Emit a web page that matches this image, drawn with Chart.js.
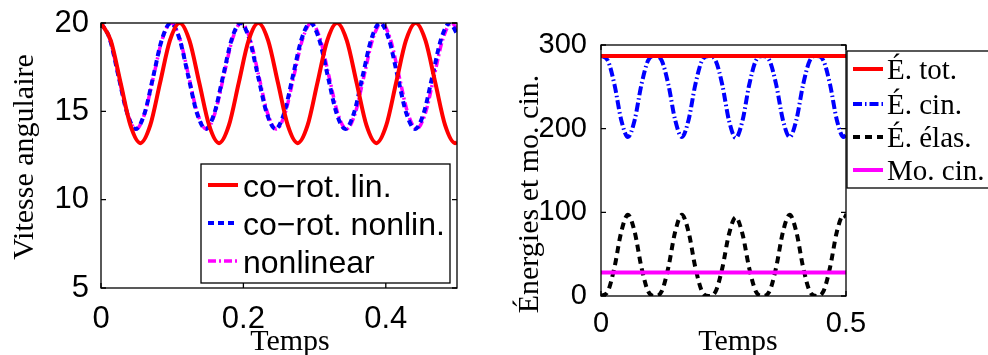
<!DOCTYPE html>
<html>
<head>
<meta charset="utf-8">
<title>Vitesse angulaire et énergies</title>
<script src="https://cdn.jsdelivr.net/npm/chart.js@4.4.0/dist/chart.umd.min.js"></script>
<style>
  body { margin: 0; background: #fff; }
  #wrap { position: relative; width: 988px; height: 355px; overflow: hidden; }
  #left { position: absolute; left: 0; top: 0; }
  #right { position: absolute; left: 500px; top: 0; }
</style>
</head>
<body>
<div id="wrap">
  <canvas id="left" width="500" height="355"></canvas>
  <canvas id="right" width="488" height="355"></canvas>
</div>
<script>
'use strict';

// left panel: angular velocity
let linTime = [0, 0.0138, 0.0276, 0.0414, 0.0553, 0.0691, 0.0829, 0.0967,
  0.1105, 0.1243, 0.1381, 0.1519, 0.1658, 0.1796, 0.1934, 0.2072,
  0.221, 0.2348, 0.2486, 0.2624, 0.2763, 0.2901, 0.3039, 0.3177,
  0.3315, 0.3453, 0.3591, 0.3729, 0.3868, 0.4006, 0.4144, 0.4282,
  0.442, 0.4558, 0.4696, 0.4834, 0.4973, 0.5];
let linSpeed = [20, 19, 16.6, 14.2, 13.2, 14.2, 16.6, 19,
  20, 19, 16.6, 14.2, 13.2, 14.2, 16.6, 19,
  20, 19, 16.6, 14.2, 13.2, 14.2, 16.6, 19,
  20, 19, 16.6, 14.2, 13.2, 14.2, 16.6, 19,
  20, 19, 16.6, 14.2, 13.2, 13.25];

let nonlinTime = [0, 0.01225, 0.0245, 0.03675, 0.049, 0.06125, 0.0735, 0.08575,
  0.098, 0.11025, 0.1225, 0.13475, 0.147, 0.15925, 0.1715, 0.18375,
  0.196, 0.20825, 0.2205, 0.23275, 0.245, 0.25725, 0.2695, 0.28175,
  0.294, 0.30625, 0.3185, 0.33075, 0.343, 0.35525, 0.3675, 0.37975,
  0.392, 0.40425, 0.4165, 0.42875, 0.441, 0.45325, 0.4655, 0.47775,
  0.49, 0.5];
let nonlinSpeed = [20, 19.1, 17, 14.9, 14, 14.9, 17, 19.1,
  20, 19.1, 17, 14.9, 14, 14.9, 17, 19.1,
  20, 19.1, 17, 14.9, 14, 14.9, 17, 19.1,
  20, 19.1, 17, 14.9, 14, 14.9, 17, 19.1,
  20, 19.1, 17, 14.9, 14, 14.9, 17, 19.1,
  20, 19.4];

let fullTime = [0, 0.0123, 0.0246, 0.0369, 0.0493, 0.0616, 0.0739, 0.0862,
  0.0985, 0.1108, 0.1231, 0.1354, 0.1478, 0.1601, 0.1724, 0.1847,
  0.197, 0.2093, 0.2216, 0.2339, 0.2463, 0.2586, 0.2709, 0.2832,
  0.2955, 0.3078, 0.3201, 0.3324, 0.3448, 0.3571, 0.3694, 0.3817,
  0.394, 0.4063, 0.4186, 0.4309, 0.4433, 0.4556, 0.4679, 0.4802,
  0.4925, 0.5];
let fullSpeed = [20, 19.1, 17, 14.9, 14, 14.9, 17, 19.1,
  20, 19.1, 17, 14.9, 14, 14.9, 17, 19.1,
  20, 19.1, 17, 14.9, 14, 14.9, 17, 19.1,
  20, 19.1, 17, 14.9, 14, 14.9, 17, 19.1,
  20, 19.1, 17, 14.9, 14, 14.9, 17, 19.1,
  20, 19.65];

// right panel: energies and angular momentum
let energyTime = [0, 0.01375, 0.0275, 0.04125, 0.055, 0.06875, 0.0825, 0.09625,
  0.11, 0.12375, 0.1375, 0.15125, 0.165, 0.17875, 0.1925, 0.20625,
  0.22, 0.23375, 0.2475, 0.26125, 0.275, 0.28875, 0.3025, 0.31625,
  0.33, 0.34375, 0.3575, 0.37125, 0.385, 0.39875, 0.4125, 0.42625,
  0.44, 0.45375, 0.4675, 0.48125, 0.495, 0.5];
let cinEnergy = [287, 281.6, 252.7, 210.5, 190, 210.5, 252.7, 281.6,
  287, 281.6, 252.7, 210.5, 190, 210.5, 252.7, 281.6,
  287, 281.6, 252.5, 209.5, 189, 209.5, 252.5, 281.6,
  287, 281.6, 252.7, 210.5, 190, 210.5, 252.7, 281.6,
  287, 281.6, 252.7, 210.5, 190, 192.8];
let elasEnergy = [0, 5.4, 34.3, 76.5, 97, 76.5, 34.3, 5.4,
  0, 5.4, 34.3, 76.5, 97, 76.5, 34.3, 5.4,
  0, 5.2, 33.2, 74.1, 94, 74.1, 33.2, 5.2,
  0, 5.4, 34.3, 76.5, 97, 76.5, 34.3, 5.4,
  0, 5.4, 34.3, 76.5, 97, 94.2];
let flatTime = [0, 0.5];
let totEnergy = [287, 287];
let momentum = [28, 28];

// tick labels
let leftXTicks = [0, 0.2, 0.4];
let leftYTicks = [5, 10, 15, 20];
let rightXTicks = [0, 0.5];
let rightYTicks = [0, 100, 200, 300];

// legend names
let leftNames = ['co\u2212rot. lin.', 'co\u2212rot. nonlin.', 'nonlinear'];
let rightNames = ['É. tot.', 'É. cin.', 'É. élas.', 'Mo. cin.'];

function toPoints(times, values) {
  return times.map((t, i) => ({ x: t, y: values[i] }));
}

let sansFamily = '"Liberation Sans", Arial, sans-serif';

// matlab style box, inward ticks, axis labels and the boxed legend
const matlabFrame = {
  id: 'matlabFrame',
  afterDatasetsDraw(chart, args, opts) {
    let ctx = chart.ctx;
    let a = chart.chartArea;
    let xs = chart.scales.x;
    let ys = chart.scales.y;
    ctx.save();
    ctx.strokeStyle = '#000';
    ctx.lineWidth = 1.3;
    ctx.setLineDash([]);
    ctx.beginPath();
    xs.ticks.forEach(t => {
      let px = xs.getPixelForValue(t.value);
      ctx.moveTo(px, a.bottom); ctx.lineTo(px, a.bottom - 5);
      ctx.moveTo(px, a.top); ctx.lineTo(px, a.top + 5);
    });
    ys.ticks.forEach(t => {
      let py = ys.getPixelForValue(t.value);
      ctx.moveTo(a.left, py); ctx.lineTo(a.left + 5, py);
      ctx.moveTo(a.right, py); ctx.lineTo(a.right - 5, py);
    });
    ctx.stroke();
    ctx.strokeRect(a.left, a.top, a.right - a.left, a.bottom - a.top);

    // axis titles
    ctx.fillStyle = '#000';
    ctx.font = '30px "Liberation Serif", serif';
    ctx.textAlign = 'center';
    ctx.textBaseline = 'alphabetic';
    ctx.fillText(opts.xTitle, opts.xTitleAt[0], opts.xTitleAt[1]);
    ctx.save();
    ctx.translate(opts.yTitleAt[0], opts.yTitleAt[1]);
    ctx.rotate(-Math.PI / 2);
    ctx.fillText(opts.yTitle, 0, 0);
    ctx.restore();

    // legend
    let lg = opts.legend;
    ctx.fillStyle = '#fff';
    ctx.fillRect(lg.box[0], lg.box[1], lg.box[2], lg.box[3]);
    ctx.strokeRect(lg.box[0], lg.box[1], lg.box[2], lg.box[3]);
    ctx.font = lg.font;
    ctx.textAlign = 'left';
    chart.data.datasets.forEach((ds, i) => {
      let y = lg.rows[i];
      ctx.save();
      ctx.strokeStyle = ds.borderColor;
      ctx.lineWidth = ds.borderWidth;
      ctx.setLineDash(ds.borderDash || []);
      ctx.beginPath();
      ctx.moveTo(lg.sample[0], y);
      ctx.lineTo(lg.sample[1], y);
      ctx.stroke();
      ctx.restore();
      ctx.fillStyle = '#000';
      ctx.fillText(ds.label, lg.textX, y + lg.drop);
    });
    ctx.restore();
  }
};

function axis(min, max, ticks, size, pad, fontSize, horizontal) {
  return {
    type: 'linear',
    min: min,
    max: max,
    grid: { display: false },
    border: { display: false },
    afterBuildTicks: s => { s.ticks = ticks.map(v => ({ value: v })); },
    afterFit: s => { if (horizontal) { s.height = size; } else { s.width = size; } },
    ticks: {
      font: { family: sansFamily, size: fontSize },
      color: '#000',
      padding: pad,
      maxRotation: 0,
      autoSkip: false,
      callback: v => String(v)
    }
  };
}

function line(label, times, values, color, width, dash, order) {
  return {
    label: label,
    data: toPoints(times, values),
    borderColor: color,
    backgroundColor: color,
    borderWidth: width,
    borderDash: dash,
    pointRadius: 0,
    fill: false,
    cubicInterpolationMode: 'monotone',
    order: order || 0
  };
}

let leftChart = new Chart(document.getElementById('left'), {
  type: 'line',
  data: {
    datasets: [
      line(leftNames[0], linTime, linSpeed, '#ff0000', 4, []),
      line(leftNames[1], nonlinTime, nonlinSpeed, '#0000ff', 4, [6, 4]),
      line(leftNames[2], fullTime, fullSpeed, '#ff00ff', 3.5, [8, 3, 2, 3])
    ]
  },
  options: {
    responsive: false,
    animation: false,
    layout: { padding: { left: 0, top: 23, right: 43, bottom: 0 } },
    scales: {
      x: axis(0, 0.5, leftXTicks, 67, 5, 31, true),
      y: axis(5, 20, leftYTicks, 101, 4, 31, false)
    },
    plugins: {
      legend: { display: false },
      tooltip: { enabled: false },
      matlabFrame: {
        xTitle: 'Temps',
        xTitleAt: [290, 350],
        yTitle: 'Vitesse angulaire',
        yTitleAt: [33, 157],
        legend: {
          box: [201, 164, 249, 119],
          font: '32px ' + sansFamily,
          rows: [185, 223, 261],
          sample: [208, 238],
          textX: 243,
          drop: 11.5
        }
      }
    }
  },
  plugins: [matlabFrame]
});

let rightChart = new Chart(document.getElementById('right'), {
  type: 'line',
  data: {
    datasets: [
      line(rightNames[0], flatTime, totEnergy, '#ff0000', 4, []),
      line(rightNames[1], energyTime, cinEnergy, '#0000ff', 4, [9, 3, 1.5, 3]),
      line(rightNames[2], energyTime, elasEnergy, '#000000', 4, [7, 5]),
      line(rightNames[3], flatTime, momentum, '#ff00ff', 4, [], -1)
    ]
  },
  options: {
    responsive: false,
    animation: false,
    layout: { padding: { left: 0, top: 45, right: 142, bottom: 0 } },
    scales: {
      x: axis(0, 0.5, rightXTicks, 59, 3, 29, true),
      y: axis(0, 300, rightYTicks, 101, 6, 29, false)
    },
    plugins: {
      legend: { display: false },
      tooltip: { enabled: false },
      matlabFrame: {
        xTitle: 'Temps',
        xTitleAt: [238, 350],
        yTitle: 'Énergies et mo. cin.',
        yTitleAt: [38, 194],
        legend: {
          box: [347, 51, 200, 137],
          font: '29px "Liberation Serif", serif',
          rows: [69, 104, 137, 170],
          sample: [353, 383],
          textX: 387,
          drop: 9.5
        }
      }
    }
  },
  plugins: [matlabFrame]
});
</script>
</body>
</html>
